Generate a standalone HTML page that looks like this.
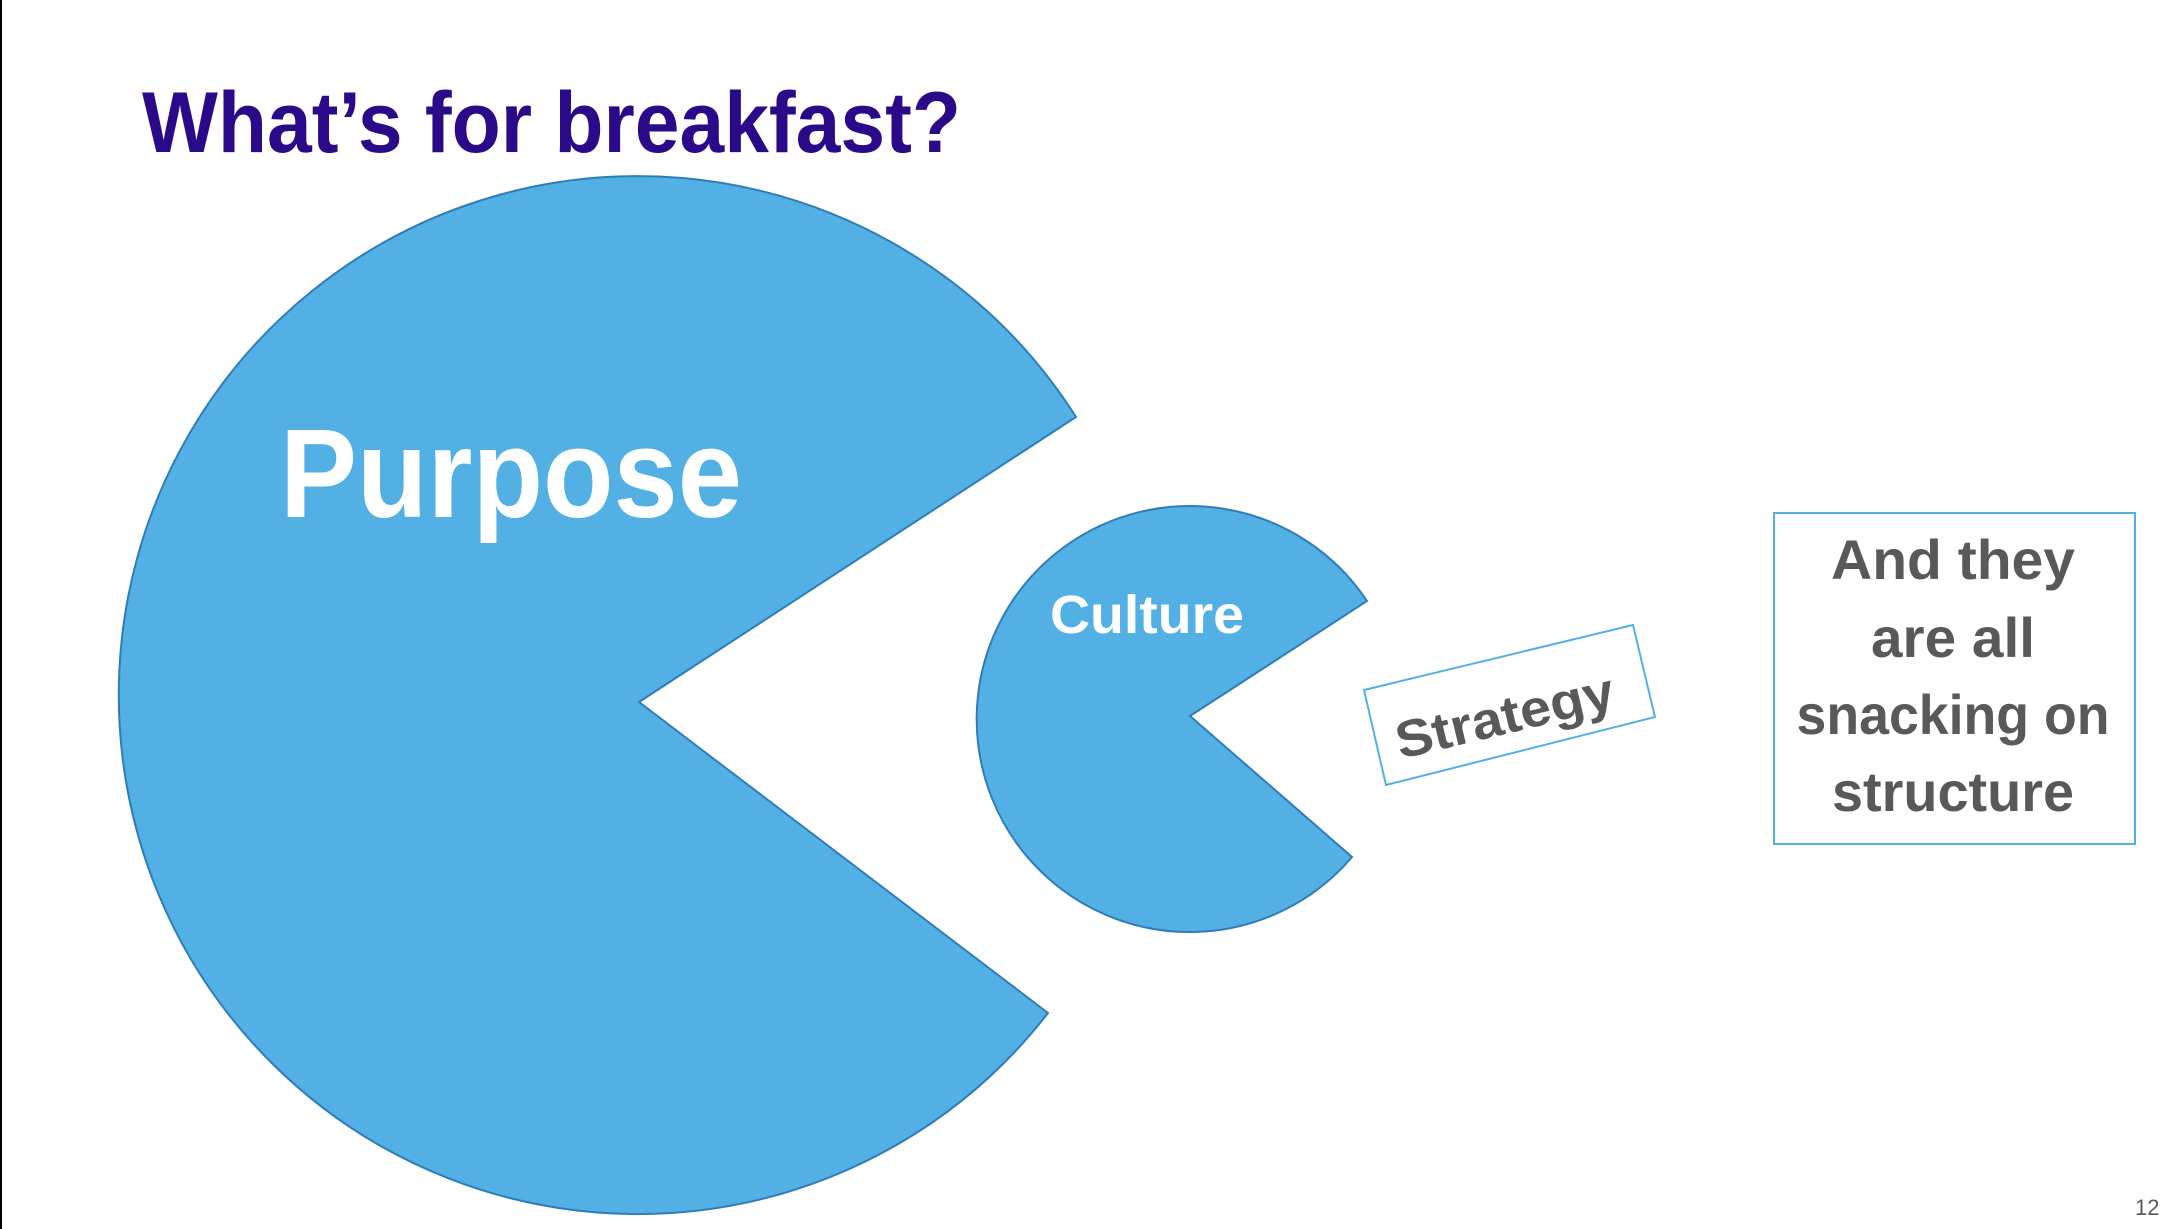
<!DOCTYPE html>
<html><head><meta charset="utf-8"><style>html,body{margin:0;padding:0;background:#fff}svg{display:block}</style></head>
<body>
<svg width="2163" height="1229" viewBox="0 0 2163 1229" xmlns="http://www.w3.org/2000/svg" font-family="'Liberation Sans', sans-serif" font-weight="bold">
<rect width="2163" height="1229" fill="#fff"/>
<line x1="1" y1="0" x2="1" y2="1229" stroke="#000" stroke-width="2"/>
<text x="142" y="152" font-size="86" fill="#2B0A8A" textLength="819" lengthAdjust="spacingAndGlyphs">What’s for breakfast?</text>
<path d="M639 702 L1076 417 A519 519 0 1 0 1048 1013 Z" fill="#52B0E5" stroke="#2F7DB8" stroke-width="2"/>
<path d="M1190 716 L1367 601 A213 213 0 1 0 1352 857 Z" fill="#52B0E5" stroke="#2F7DB8" stroke-width="2"/>
<text x="280" y="517" font-size="126" fill="#fff" textLength="462" lengthAdjust="spacingAndGlyphs">Purpose</text>
<text x="1050" y="633" font-size="54" fill="#fff" textLength="194" lengthAdjust="spacingAndGlyphs">Culture</text>
<polygon points="1364,690 1633,625 1655,717 1386,785" fill="#fff" stroke="#52B0E5" stroke-width="2"/>
<text x="1510" y="733" font-size="52" fill="#595959" text-anchor="middle" textLength="223" lengthAdjust="spacingAndGlyphs" transform="rotate(-13.5 1510 738)">Strategy</text>
<rect x="1774" y="513" width="361" height="331" fill="#fff" stroke="#52B0E5" stroke-width="2"/>
<g font-size="56" fill="#595959" text-anchor="middle">
<text x="1953" y="579" textLength="244" lengthAdjust="spacingAndGlyphs">And they</text>
<text x="1953" y="657" textLength="164" lengthAdjust="spacingAndGlyphs">are all</text>
<text x="1953" y="734" textLength="313" lengthAdjust="spacingAndGlyphs">snacking on</text>
<text x="1953" y="811" textLength="242" lengthAdjust="spacingAndGlyphs">structure</text>
</g>
<text x="2135" y="1215" font-size="22" font-weight="normal" fill="#595959">12</text>
</svg>
</body></html>
